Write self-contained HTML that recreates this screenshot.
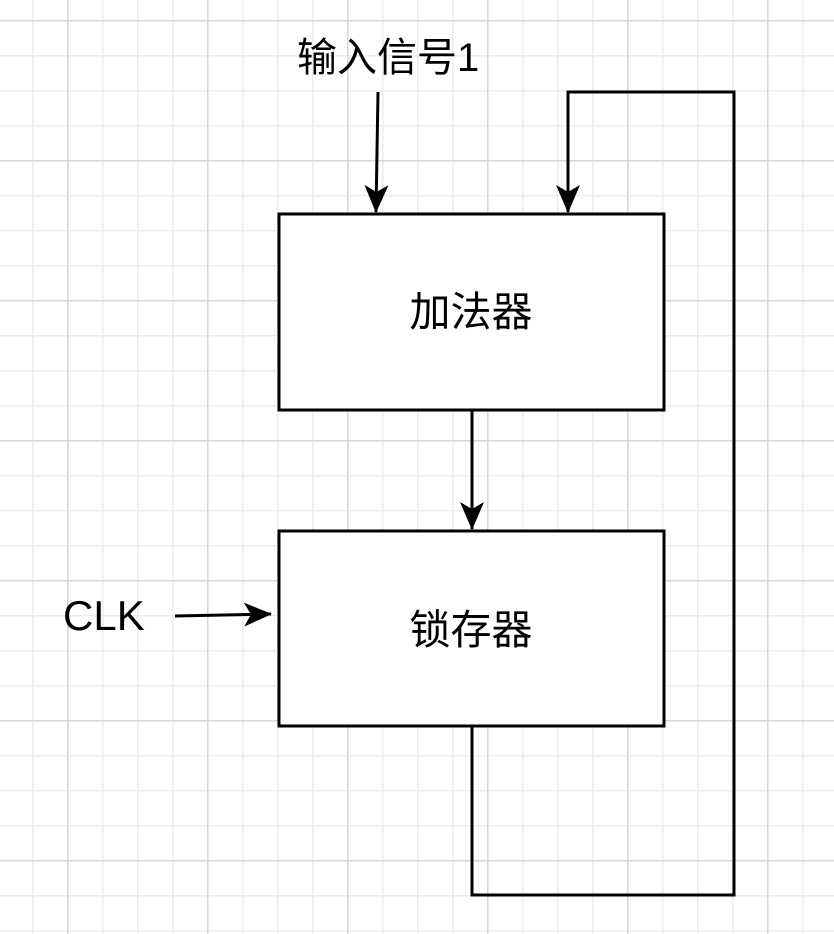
<!DOCTYPE html>
<html><head><meta charset="utf-8"><style>
html,body{margin:0;padding:0;background:#fff}
svg{display:block}
text{font-family:"Liberation Sans","Noto Sans CJK SC",sans-serif;fill:#000}
</style></head><body>
<svg width="834" height="934" viewBox="0 0 834 934" xmlns="http://www.w3.org/2000/svg">
<defs>
<pattern id="minor" x="32" y="20" width="35" height="35" patternUnits="userSpaceOnUse">
<path d="M0 0H35M0 0V35" stroke="#ececec" stroke-width="3" fill="none"/>
</pattern>
<pattern id="major" x="67" y="20" width="140" height="140" patternUnits="userSpaceOnUse">
<path d="M0 0H140M0 0V140" stroke="#d6d6d6" stroke-width="3" fill="none"/>
</pattern>
<marker id="ah" viewBox="0 0 28 28" refX="27" refY="14" markerWidth="28" markerHeight="28" markerUnits="userSpaceOnUse" orient="auto">
<path d="M0 2L28 14L0 26L7 14Z" fill="#000"/>
</marker>
</defs>
<rect width="834" height="934" fill="url(#minor)"/>
<rect width="834" height="934" fill="url(#major)"/>
<g stroke="#000" stroke-width="3" fill="none">
<rect x="279" y="214" width="385" height="196" fill="#fff"/>
<rect x="279" y="531" width="385" height="195" fill="#fff"/>
<path d="M378 92L376 212" marker-end="url(#ah)"/>
<path d="M472 726V895H734V92H568V212" marker-end="url(#ah)"/>
<path d="M472 410V529" marker-end="url(#ah)"/>
<path d="M175 616L271 614" marker-end="url(#ah)"/>
</g>
<text x="297" y="71" font-size="40">输入信号1</text>
<text x="471" y="326" font-size="41" text-anchor="middle">加法器</text>
<text x="471" y="644" font-size="41" text-anchor="middle">锁存器</text>
<text x="63" y="630" font-size="42">CLK</text>
</svg>
</body></html>
